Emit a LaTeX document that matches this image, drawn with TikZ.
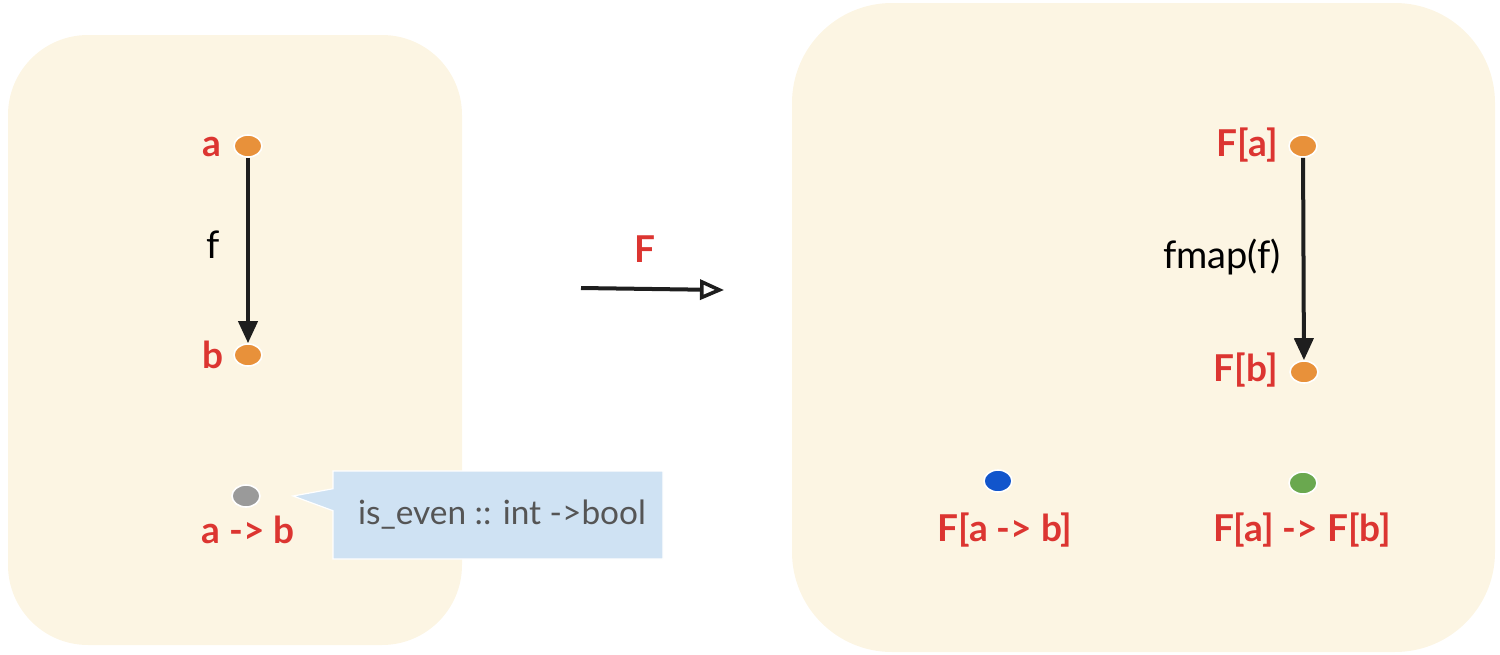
\documentclass[tikz,border=0pt]{standalone}
\usepackage{fontspec}
\setmainfont{Lato}
\usetikzlibrary{arrows.meta,shapes.geometric,shapes.callouts}
\definecolor{panel}{HTML}{FCF5E3}
\definecolor{lbl}{HTML}{DC3531}
\definecolor{dotorange}{HTML}{E8913A}
\definecolor{dotblue}{HTML}{1155CC}
\definecolor{dotgreen}{HTML}{6AA84F}
\definecolor{dotgray}{HTML}{9A9A9A}
\definecolor{ink}{HTML}{1E1E1E}
\definecolor{notefill}{HTML}{CFE2F3}
\definecolor{notetext}{HTML}{555555}
\tikzset{
  panelbox/.style={fill=panel, draw=none},
  objdot/.style={ellipse, draw=white, line width=0.8pt, minimum width=14pt, minimum height=11pt, inner sep=0pt},
  objlabel/.style={text=lbl, font=\fontsize{18.5}{20}\bfseries\selectfont, inner sep=0pt},
  morphlabel/.style={text=black, font=\fontsize{19}{20}\selectfont, inner sep=0pt},
  morph/.style={draw=ink, line width=2pt, -{Triangle[length=11pt, width=9.5pt]}},
  functorarrow/.style={draw=ink, line width=2pt, -{Triangle[open, length=12pt, width=10pt, line width=1.8pt]}},
  note/.style={rectangle callout, fill=notefill, draw=white, line width=0.6pt,
    minimum width=165pt, minimum height=44pt, inner sep=0pt, callout pointer width=11pt,
    text=notetext, font=\fontsize{16.7}{20}\selectfont}
}
\begin{document}
\begin{tikzpicture}[x=0.5pt, y=-0.5pt]
\useasboundingbox (0,0) rectangle (1500,654);
% category panels
\path[panelbox, rounded corners=40pt] (8,35) rectangle (462,645);
\path[panelbox, rounded corners=50pt] (792,3) rectangle (1495,652);

% source category
\node[objdot, fill=dotorange] (a) at (248,146) {};
\node[objdot, fill=dotorange] (b) at (248,355) {};
\node[objdot, fill=dotgray] (ab) at (246,496) {};
\node[objlabel] (la) at (212,147) {a};
\node[objlabel] (lb) at (213,355) {b};
\node[objlabel] (lab) at (248,530) {a -> b};
\draw[morph] (a) -- (b);
\node[morphlabel] (lf) at (213,245) {f};

% note on the hom-set element
\coordinate (tip) at (293,496);
\node[note, callout absolute pointer=(tip)] (iseven) at (498,515) {\hspace{4pt}is\_even :: int ->bool};

% functor
\node[objlabel] (lF) at (645,249) {F};
\coordinate (fs) at (581,288);
\coordinate (fe) at (724,290);
\draw[functorarrow] (fs) -- (fe);

% target category
\node[objdot, fill=dotorange] (Fa) at (1303,146) {};
\node[objdot, fill=dotorange] (Fb) at (1304,372) {};
\node[objdot, fill=dotblue] (Fab) at (998,481) {};
\node[objdot, fill=dotgreen] (FaFb) at (1303,483) {};
\node[objlabel, anchor=east] (lFa) at (1278,145) {F[a]};
\node[objlabel, anchor=east] (lFb) at (1278,370) {F[b]};
\node[objlabel] (lFab) at (1005,530) {F[a -> b]};
\node[objlabel] (lFaFb) at (1302,530) {F[a] -> F[b]};
\draw[morph] (Fa) -- (Fb);
\node[morphlabel] (lfmap) at (1222,257) {fmap(f)};
\end{tikzpicture}
\end{document}
